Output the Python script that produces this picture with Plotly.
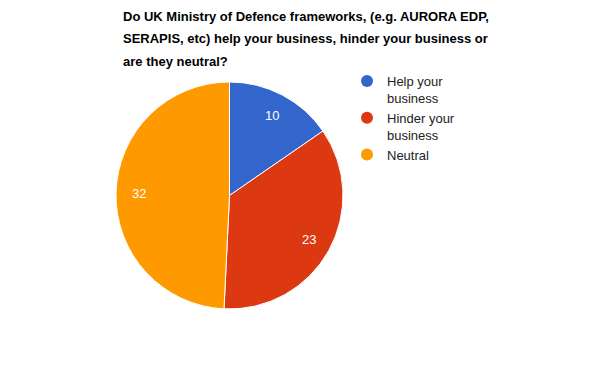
import math
import plotly.graph_objects as go

labels = ["Help your business", "Hinder your business", "Neutral"]
legend_labels = ["Help your<br>business", "Hinder your<br>business", "Neutral"]
values = [10, 23, 32]
colors = ["#3366cc", "#dc3912", "#ff9900"]
title_lines = [
    "Do UK Ministry of Defence frameworks, (e.g. AURORA EDP,",
    "SERAPIS, etc) help your business, hinder your business or",
    "are they neutral?",
]

W, H = 600, 390
FONT = "Arial, Liberation Sans, sans-serif"

# pie domain in pixels
PX0, PX1, PY0, PY1 = 116, 343, 82, 309
CX, CY = (PX0 + PX1) / 2, (PY0 + PY1) / 2
R = min(PX1 - PX0, PY1 - PY0) / 2

fig = go.Figure()
fig.add_trace(go.Pie(
    labels=labels, values=values, sort=False, direction="clockwise", rotation=0,
    marker=dict(colors=colors, line=dict(color="white", width=1)),
    textinfo="none",
    domain=dict(x=[PX0 / W, PX1 / W], y=[1 - PY1 / H, 1 - PY0 / H]),
    showlegend=False, hoverinfo="label+value+percent",
))
for lab, col in zip(legend_labels, colors):
    fig.add_trace(go.Scatter(
        x=[None], y=[None], mode="markers", name=lab,
        marker=dict(color=col, size=13, symbol="circle"),
        showlegend=True,
    ))

# slice value labels placed at 0.8 radius on each slice's mid-angle
total = sum(values)
cum = 0
for v in values:
    mid = (cum + v / 2) / total * 2 * math.pi
    cum += v
    px = CX + 0.8 * R * math.sin(mid)
    py = CY - 0.8 * R * math.cos(mid)
    fig.add_annotation(
        text=str(v), xref="paper", yref="paper", x=px / W, y=1 - py / H,
        xanchor="center", yanchor="middle", showarrow=False,
        font=dict(size=13, color="white", family=FONT),
    )

for i, line in enumerate(title_lines):
    fig.add_annotation(
        text=f"<b>{line}</b>", xref="paper", yref="paper",
        x=121 / W, y=1 - (17 + 22 * i) / H, xanchor="left", yanchor="middle",
        showarrow=False, font=dict(size=13, color="#000000", family=FONT),
    )

fig.update_layout(
    width=W, height=H,
    margin=dict(l=0, r=0, t=0, b=0),
    paper_bgcolor="white", plot_bgcolor="white",
    xaxis=dict(visible=False), yaxis=dict(visible=False),
    showlegend=True,
    legend=dict(
        x=347 / W, y=1 - 66 / H, xanchor="left", yanchor="top",
        font=dict(size=13, color="#222222", family=FONT),
        itemsizing="constant", valign="top", bgcolor="rgba(0,0,0,0)",
    ),
)

fig.write_html("out.html")
